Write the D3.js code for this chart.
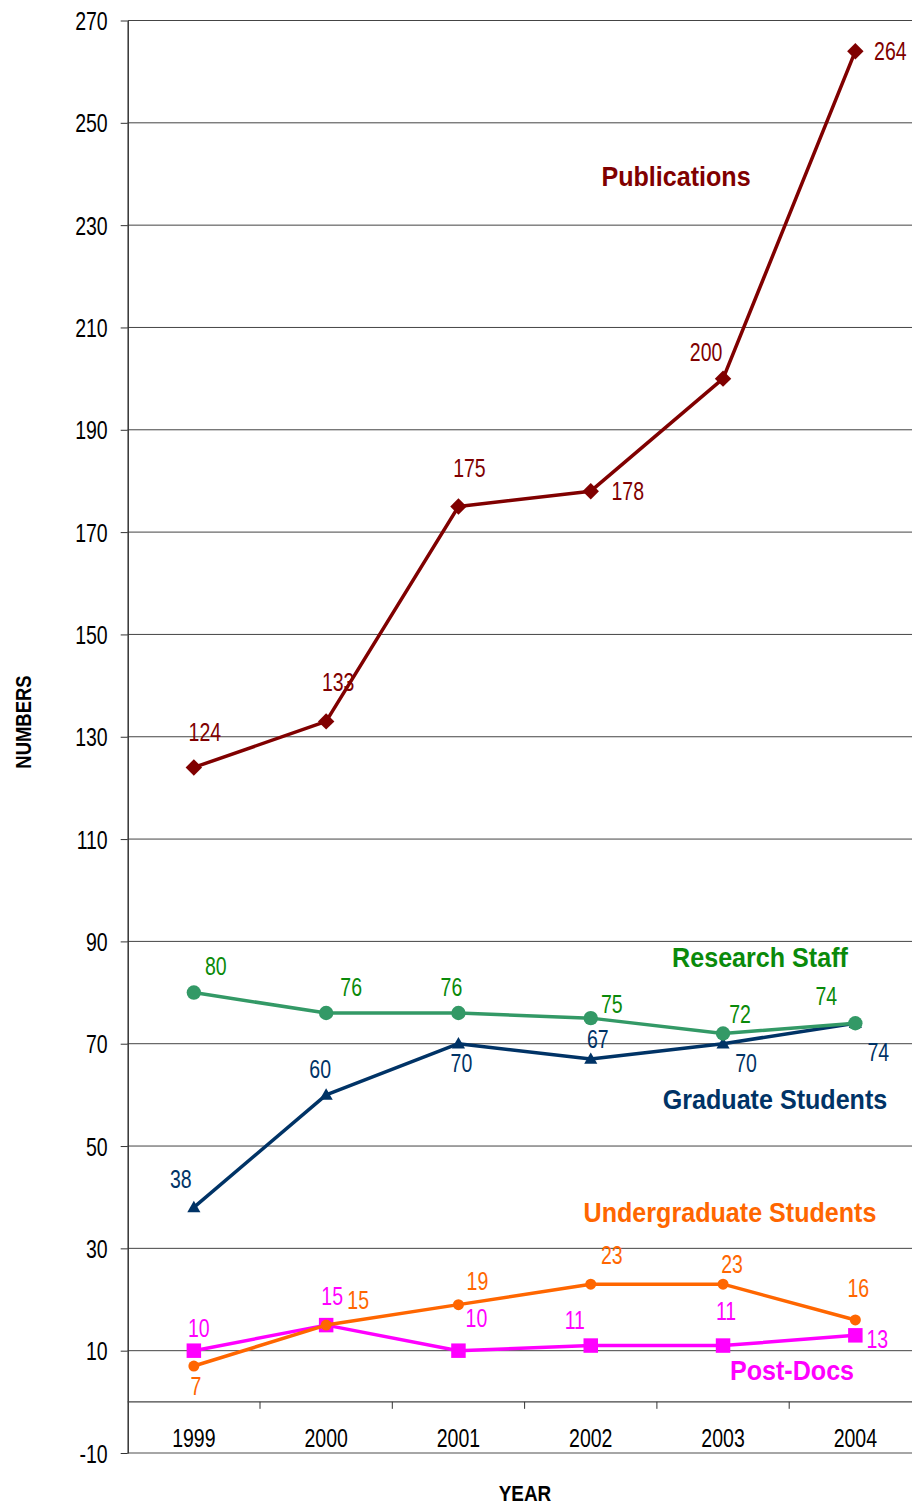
<!DOCTYPE html>
<html>
<head>
<meta charset="utf-8">
<script src="https://cdn.jsdelivr.net/npm/d3@7"></script>
<style>
  body { margin: 0; background: #fff; }
  svg { display: block; font-family: "Liberation Sans", Arial, sans-serif; }
</style>
</head>
<body>
<svg width="912" height="1504"></svg>
<script>
// data
const years = ["1999", "2000", "2001", "2002", "2003", "2004"];
const publications = [124, 133, 175, 178, 200, 264];
const researchStaff = [80, 76, 76, 75, 72, 74];
const gradStudents = [38, 60, 70, 67, 70, 74];
const undergradStudents = [7, 15, 19, 23, 23, 16];
const postDocs = [10, 15, 10, 11, 11, 13];
const yTicks = [-10, 10, 30, 50, 70, 90, 110, 130, 150, 170, 190, 210, 230, 250, 270];

// where each value label sits relative to its point (dx, dy)
const nudge = {
  pub:   [[11,-36],[12,-40],[11,-39],[37,0],[-17,-27],[35,0]],
  staff: [[22,-27],[25,-26],[-7,-26],[21,-14],[17,-20],[-29,-27]],
  grad:  [[-13,-29],[-6,-26],[3,19],[7,-20],[23,19],[23,29]],
  under: [[2,20],[32,-25],[19,-24],[21,-29],[9,-20],[3,-32]],
  post:  [[5,-23],[6,-29],[18,-33],[-16,-26],[3,-35],[22,4]]
};

const series = [
  { key: "grad", name: "Graduate Students", values: gradStudents, line: "#003366", label: "#003366", marker: "triangle", nameAt: [775, 1100] },
  { key: "staff", name: "Research Staff", values: researchStaff, line: "#339966", label: "#0a8a0a", marker: "bigcircle", nameAt: [760, 958] },
  { key: "post", name: "Post-Docs", values: postDocs, line: "#ff00ff", label: "#ff00ff", marker: "square", nameAt: [792, 1371] },
  { key: "under", name: "Undergraduate Students", values: undergradStudents, line: "#ff6600", label: "#ff6600", marker: "circle", nameAt: [730, 1213] },
  { key: "pub", name: "Publications", values: publications, line: "#800000", label: "#800000", marker: "diamond", nameAt: [676, 177] }
];

const svg = d3.select("svg");
const left = 127.7, right = 912;
const SX = 0.75; // chart text is horizontally condensed

const x = d3.scaleBand().domain(years).range([left, left + 6 * 132.3]);
const y = d3.scaleLinear().domain([-10, 270]).range([1453, 20.5]);
const cx = d => x(d) + x.bandwidth() / 2;

// gridlines
svg.append("g")
  .selectAll("line")
  .data(yTicks)
  .join("line")
  .attr("x1", left).attr("x2", right)
  .attr("y1", d => y(d)).attr("y2", d => y(d))
  .attr("stroke", d => d == -10 ? "#888" : "#444")
  .attr("stroke-width", d => d == -10 ? 1.5 : 1);

// y axis
const yAxis = svg.append("g")
  .attr("transform", `translate(${left},0)`)
  .call(d3.axisLeft(y).tickValues(yTicks).tickSize(7).tickSizeOuter(0).tickFormat(d => String(d)));
yAxis.select(".domain").attr("stroke", "#333").attr("stroke-width", 1.5);
yAxis.selectAll(".tick line").attr("stroke", "#333");
yAxis.selectAll("text")
  .attr("font-size", 26).attr("fill", "#000")
  .attr("x", -20 / SX).attr("dy", "0.35em")
  .attr("transform", `scale(${SX},1)`);

// x axis at zero
const y0 = y(0);
const xAxis = svg.append("g")
  .attr("transform", `translate(0,${y0})`)
  .call(d3.axisBottom(x).tickSize(0));
xAxis.select(".domain").attr("stroke", "#444").attr("stroke-width", 1.2).attr("d", `M${left},0H${right}`);
xAxis.selectAll(".tick text")
  .attr("font-size", 26).attr("fill", "#000")
  .attr("y", 36).attr("dy", "0.35em")
  .attr("transform", `scale(${SX},1)`)
  .attr("x", 0);
svg.append("g")
  .selectAll("line")
  .data(d3.range(1, 6))
  .join("line")
  .attr("x1", i => left + i * x.step()).attr("x2", i => left + i * x.step())
  .attr("y1", y0).attr("y2", y0 + 7)
  .attr("stroke", "#333");

// axis titles
svg.append("text")
  .attr("transform", `translate(525,1493) scale(0.86,1)`)
  .attr("text-anchor", "middle").attr("dy", "0.35em")
  .attr("font-size", 22).attr("font-weight", "bold")
  .text("YEAR");
svg.append("text")
  .attr("transform", `translate(23,722) rotate(-90) scale(0.84,1)`)
  .attr("text-anchor", "middle").attr("dy", "0.35em")
  .attr("font-size", 22).attr("font-weight", "bold")
  .text("NUMBERS");

const line = d3.line().x((d, i) => cx(years[i])).y(d => y(d));

const markerPath = {
  triangle: d3.symbol(d3.symbolTriangle, 75)(),
  square: d3.symbol(d3.symbolSquare, 210)(),
  diamond: d3.symbol(d3.symbolSquare, 135)()
};

series.forEach(s => {
  const g = svg.append("g");
  g.append("path")
    .datum(s.values)
    .attr("d", line)
    .attr("fill", "none")
    .attr("stroke", s.line)
    .attr("stroke-width", 3.5)
    .attr("stroke-linejoin", "round");

  const pts = g.selectAll(".pt")
    .data(s.values)
    .join("g")
    .attr("transform", (d, i) => `translate(${cx(years[i])},${y(d)})`);
  if (s.marker == "bigcircle" || s.marker == "circle") {
    pts.append("circle").attr("r", s.marker == "bigcircle" ? 7.2 : 5.5).attr("fill", s.line);
  } else {
    pts.append("path")
      .attr("d", markerPath[s.marker])
      .attr("transform", s.marker == "diamond" ? "rotate(45)" : s.marker == "triangle" ? "translate(0,1)" : null)
      .attr("fill", s.line);
  }
});

// value labels and series names, drawn above all lines
series.forEach(s => {
  svg.append("g")
    .selectAll("text")
    .data(s.values)
    .join("text")
    .attr("transform", (d, i) => `translate(${cx(years[i]) + nudge[s.key][i][0]},${y(d) + nudge[s.key][i][1]}) scale(${SX},1)`)
    .attr("text-anchor", "middle").attr("dy", "0.35em")
    .attr("font-size", 26)
    .attr("fill", s.label)
    .text(d => d);

  svg.append("text")
    .attr("transform", `translate(${s.nameAt[0]},${s.nameAt[1]}) scale(0.93,1)`)
    .attr("text-anchor", "middle").attr("dy", "0.35em")
    .attr("font-size", 27).attr("font-weight", "bold")
    .attr("fill", s.label)
    .text(s.name);
});
</script>
</body>
</html>
